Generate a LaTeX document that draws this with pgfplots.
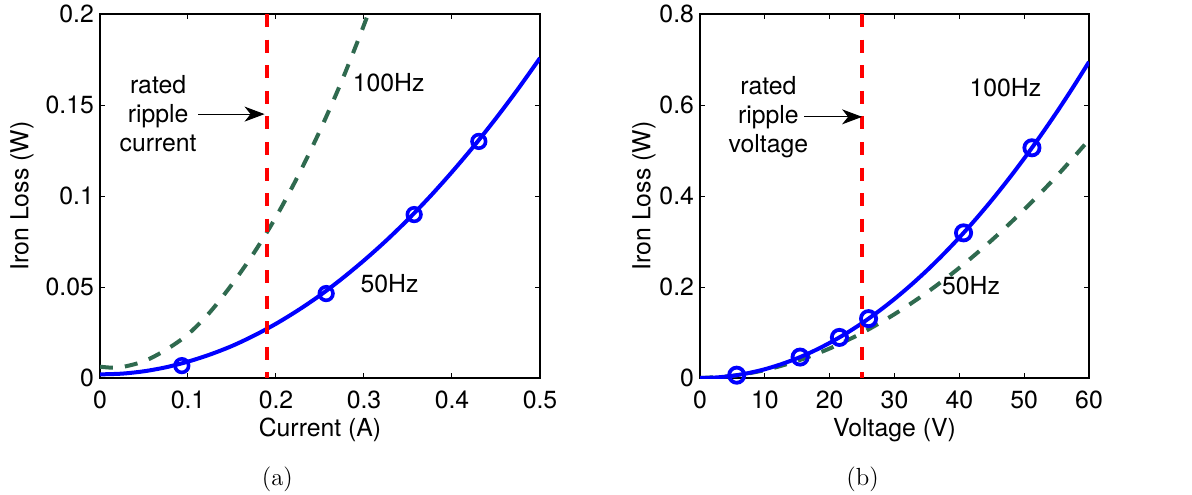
\documentclass[border=0pt]{standalone}
\usepackage{fontspec}
\newfontfamily\helv{TeX Gyre Heros}
\usepackage{pgfplots}
\pgfplotsset{compat=1.18}
\usetikzlibrary{arrows.meta}
\definecolor{lossgreen}{HTML}{2F6A4F}

\newcommand\plotfont{\helv\fontsize{12.4}{14.5}\selectfont}
\tikzset{
  note/.style={align=center,font=\plotfont},
}
\pgfplotsset{
  panel/.style={
    scale only axis,
    height=182pt,
    xmin=0, ymin=0,
    axis line style={line width=0.6pt},
    tick align=inside,
    major tick length=2.5pt,
    every tick/.style={black,line width=0.5pt},
    font=\plotfont,
    /pgf/number format/assume math mode=true,
    yticklabel style={/pgf/number format/fixed,/pgf/number format/precision=2,xshift=0.5pt},
    xticklabel style={/pgf/number format/fixed,/pgf/number format/precision=2,
      anchor=base,yshift=-15pt},
    scaled ticks=false,
    ylabel={Iron Loss (W)},
    xlabel style={at={(axis description cs:0.5,0)},anchor=base,yshift=-29.3pt},
    clip=true,
  },
  hz50/.style={blue,line width=2pt},
  hz100/.style={lossgreen,line width=2pt,dash pattern=on 6.5pt off 6pt},
  rated/.style={red,line width=2.2pt,dash pattern=on 6.5pt off 6.3pt},
}

\begin{document}
\begin{tikzpicture}
\useasboundingbox (0,0) rectangle (596pt,247pt);

% (a) current
\begin{axis}[panel,
  at={(50pt,58pt)}, anchor=south west,
  width=220pt,
  xmax=0.5, ymax=0.2,
  xtick={0,0.1,0.2,0.3,0.4,0.5},
  ytick={0,0.05,0.1,0.15,0.2},
  xlabel={Current (A)},
  ylabel style={at={(axis description cs:0,0.5)},anchor=center,yshift=39pt},
]
\addplot[hz100,smooth] coordinates {
  (0,0.0062) (0.0125,0.0057) (0.025,0.0060) (0.05,0.0092) (0.075,0.0155)
  (0.1,0.0240) (0.125,0.0362) (0.15,0.0515) (0.175,0.0688) (0.2,0.0885)
  (0.225,0.1110) (0.25,0.1360) (0.275,0.1635) (0.3,0.1940) (0.325,0.2270)
};
\addplot[hz50,smooth] coordinates {
  (0,0.0020) (0.025,0.0024) (0.05,0.0037) (0.075,0.0059) (0.1,0.0090)
  (0.125,0.0129) (0.15,0.0176) (0.175,0.0233) (0.2,0.0298) (0.225,0.0372)
  (0.25,0.0454) (0.275,0.0546) (0.3,0.0646) (0.325,0.0754) (0.35,0.0871)
  (0.375,0.0997) (0.4,0.1132) (0.425,0.1275) (0.45,0.1427) (0.475,0.1588)
  (0.5,0.1758)
};
\addplot[blue,only marks,mark=o,mark size=3.4pt,line width=1.8pt] coordinates {
  (0.093,0.0068) (0.257,0.0464) (0.357,0.0898) (0.4305,0.1300)
};
\addplot[rated] coordinates {(0.19,0.2) (0.19,0)};
\node[note] at (axis cs:0.066,0.145) {rated\\ripple\\current};
\draw[line width=0.5pt,-{Stealth[length=10pt,width=7.5pt,inset=3pt]}]
  (axis cs:0.1116,0.145) -- (axis cs:0.187,0.145);
\node[note] at (axis cs:0.328,0.1625) {100Hz};
\node[note] at (axis cs:0.329,0.052) {50Hz};
\end{axis}

% (b) voltage
\begin{axis}[panel,
  at={(350pt,58pt)}, anchor=south west,
  width=194.5pt,
  xmax=60, ymax=0.8,
  xtick={0,10,20,30,40,50,60},
  ytick={0,0.2,0.4,0.6,0.8},
  xlabel={Voltage (V)},
  ylabel style={at={(axis description cs:0,0.5)},anchor=center,yshift=28pt},
]
\addplot[hz100,smooth] coordinates {
  (0,0) (5,0.0047) (10,0.0174) (15,0.0376) (20,0.0649) (25,0.0992)
  (30,0.1403) (35,0.1880) (40,0.2422) (45,0.3029) (50,0.3701)
  (55,0.4435) (60,0.5234)
};
\addplot[hz50,smooth] coordinates {
  (0,0) (2.5,0.0012) (5,0.0048) (7.5,0.0109) (10,0.0193) (12.5,0.0302)
  (15,0.0434) (17.5,0.0591) (20,0.0772) (22.5,0.0977) (25,0.1206)
  (27.5,0.1460) (30,0.1737) (32.5,0.2039) (35,0.2364) (37.5,0.2714)
  (40,0.3088) (42.5,0.3486) (45,0.3908) (47.5,0.4355) (50,0.4825)
  (52.5,0.5320) (55,0.5838) (57.5,0.6381) (60,0.6948)
};
\addplot[blue,only marks,mark=o,mark size=3.8pt,line width=1.9pt] coordinates {
  (5.66,0.0062) (15.44,0.046) (21.5,0.0892) (26.0,0.1305) (40.65,0.319) (51.2,0.506)
};
\addplot[rated] coordinates {(25,0.8) (25,0)};
\node[note] at (axis cs:10.55,0.574) {rated\\ripple\\voltage};
\draw[line width=0.5pt,-{Stealth[length=10pt,width=7.5pt,inset=3pt]}]
  (axis cs:16.05,0.574) -- (axis cs:25.0,0.574);
\node[note] at (axis cs:47.1,0.638) {100Hz};
\node[note] at (axis cs:41.8,0.204) {50Hz};
\end{axis}

\node[anchor=base,font=\fontsize{12.4}{14}\selectfont] at (138.7pt,4.3pt) {(a)};
\node[anchor=base,font=\fontsize{12.4}{14}\selectfont] at (431.3pt,4.3pt) {(b)};
\end{tikzpicture}
\end{document}
